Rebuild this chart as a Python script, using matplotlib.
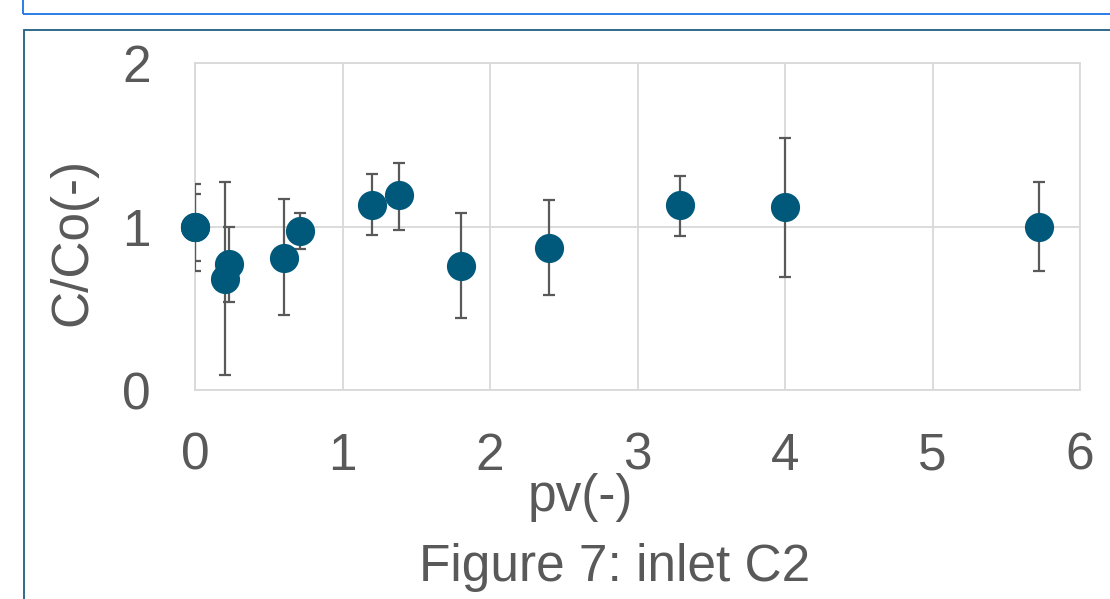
import matplotlib
matplotlib.use("Agg")
import matplotlib.pyplot as plt
from matplotlib.patches import Rectangle
import numpy as np

pv = [0.0, 0.0, 0.20, 0.23, 0.60, 0.71, 1.20, 1.38, 1.80, 2.40, 3.29, 4.00, 5.72]
c_co = [1.00, 1.00, 0.68, 0.77, 0.81, 0.97, 1.13, 1.19, 0.76, 0.87, 1.13, 1.12, 1.00]
upper = [1.26, 1.20, 1.27, 1.00, 1.17, 1.08, 1.32, 1.39, 1.08, 1.16, 1.31, 1.54, 1.27]
lower = [0.73, 0.79, 0.09, 0.54, 0.46, 0.86, 0.95, 0.98, 0.44, 0.58, 0.94, 0.69, 0.73]
x_ticks = [0, 1, 2, 3, 4, 5, 6]
y_ticks = [0, 1, 2]
title = "Figure 7: inlet C2"
xlabel = "pv(-)"
ylabel = "C/Co(-)"

TEXT = "#595959"
plt.rcParams['font.family'] = ['Liberation Sans', 'DejaVu Sans']

W, H = 1110, 599
fig = plt.figure(figsize=(W / 100, H / 100), dpi=100)

# decorative frames
fig.patches.append(Rectangle((23 / W, 1 - 14 / H), 1.2, 0.2, transform=fig.transFigure,
                             fill=False, edgecolor="#1a73e8", lw=1.3, figure=fig))
fig.patches.append(Rectangle((24 / W, -0.2), 1.2, 0.2 + 1 - 30 / H, transform=fig.transFigure,
                             fill=False, edgecolor="#1f5f80", lw=1.3, figure=fig))

ax = fig.add_axes([195 / W, 1 - 390 / H, (1080 - 195) / W, (390 - 63) / H])
ax.set_xlim(0, 6)
ax.set_ylim(0, 2)
ax.set_xticks(x_ticks)
ax.set_yticks(y_ticks)
ax.grid(True, color="#d9d9d9", lw=1.3)
ax.set_axisbelow(True)
for s in ax.spines.values():
    s.set_color("#d9d9d9")
    s.set_linewidth(1.3)
ax.tick_params(length=0, labelsize=37, labelcolor=TEXT)
ax.tick_params(axis='x', pad=30)
ax.tick_params(axis='y', pad=32)

y = np.array(c_co)
yerr = np.vstack([y - np.array(lower), np.array(upper) - y])
ax.errorbar(pv, c_co, yerr=yerr, fmt='none', ecolor="#595959", elinewidth=1.6,
            capsize=4.5, capthick=1.6, zorder=3)
ax.plot(pv, c_co, 'o', color="#00587a", markersize=21, markeredgewidth=0,
        zorder=4, clip_on=False)

fig.text(580 / W, 1 - 498 / H, xlabel, ha='center', va='center', fontsize=37, color=TEXT)
fig.text(73 / W, 1 - 242 / H, ylabel, ha='center', va='center', rotation=90,
         fontsize=37, color=TEXT)
fig.text(615 / W, 1 - 568 / H, title, ha='center', va='center', fontsize=37, color=TEXT)

fig.savefig("out.png", dpi=100)
